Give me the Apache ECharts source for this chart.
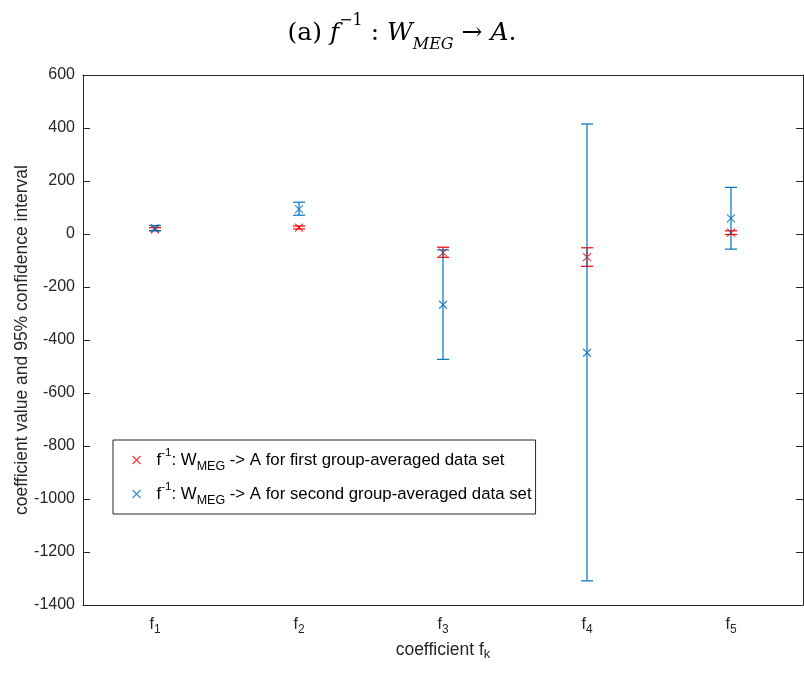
<!DOCTYPE html>
<html lang="en">

<head>
  <meta charset="UTF-8">
  <title>f^-1 : W_MEG -> A</title>
  <script src="https://cdn.jsdelivr.net/npm/echarts@6/dist/echarts.min.js"></script>
  <style>
    html, body { margin: 0; padding: 0; background: #fff; }
  </style>
</head>

<body>
  <div id="main" style="width: 804px;height:675px"></div>
  <script>
    // 系数名 (下标)
    var categories = ['1', '2', '3', '4', '5'];
    var yTicks = [600, 400, 200, 0, -200, -400, -600, -800, -1000, -1200, -1400];
    // 第一组平均数据
    var firstVal = [18, 24, -70, -87, 5];
    var firstLow = [13, 19, -88, -122, -2];
    var firstHigh = [24, 30, -50, -52, 12];
    // 第二组平均数据
    var secondVal = [22, 94, -267, -448, 59];
    var secondLow = [12, 71, -473, -1309, -57];
    var secondHigh = [32, 120, -60, 415, 176];

    var RED = '#FF0000';
    var BLUE = '#0072BD';
    var AX = '#262626';
    var FONT = '"Liberation Sans", Arial, Helvetica, sans-serif';
    var SERIF = '"DejaVu Serif", serif';
    var xMark = 'path://M0,0L10,10M0,10L10,0';

    var nameFirst = 'first';
    var nameSecond = 'second';

    function pts(vals) {
      return vals.map(function (v, i) { return [i, v]; });
    }
    function bars(lo, hi) {
      return lo.map(function (v, i) { return [i, v, hi[i]]; });
    }

    // 误差棒
    function errorBar(color) {
      return function (params, api) {
        var x = api.value(0);
        var lo = api.coord([x, api.value(1)]);
        var hi = api.coord([x, api.value(2)]);
        var hw = 6;
        var st = { stroke: color, lineWidth: 1.2 };
        return {
          type: 'group',
          children: [
            { type: 'line', shape: { x1: lo[0], y1: lo[1], x2: hi[0], y2: hi[1] }, style: st },
            { type: 'line', shape: { x1: lo[0] - hw, y1: lo[1], x2: lo[0] + hw, y2: lo[1] }, style: st },
            { type: 'line', shape: { x1: hi[0] - hw, y1: hi[1], x2: hi[0] + hw, y2: hi[1] }, style: st }
          ]
        };
      };
    }

    var legendRich = {
      t: { fontSize: 16.8, fontFamily: FONT, color: '#000', lineHeight: 26 },
      sup: { fontSize: 11.5, fontFamily: FONT, color: '#000', lineHeight: 10, verticalAlign: 'top' },
      sub: { fontSize: 12.5, fontFamily: FONT, color: '#000', lineHeight: 11, verticalAlign: 'bottom' }
    };
    var tickRich = {
      t: { fontSize: 16, fontFamily: FONT, color: AX, lineHeight: 22 },
      sub: { fontSize: 12, fontFamily: FONT, color: AX, lineHeight: 11, verticalAlign: 'bottom' }
    };
    var titleRich = {
      t: { fontSize: 17.5, fontFamily: FONT, color: AX, lineHeight: 22 },
      sub: { fontSize: 13, fontFamily: FONT, color: AX, lineHeight: 11, verticalAlign: 'bottom' }
    };

    var myChart = echarts.init(document.getElementById('main'));
    var option = {
      animation: false,
      backgroundColor: '#fff',
      title: {
        text: '{t|(a) }{i|f}{sup|−1}{t| : }{i|W}{sub|MEG}{t| → }{i|A}{t|.}',
        left: 'center',
        top: 8,
        textStyle: {
          rich: {
            t: { fontSize: 25, fontFamily: SERIF, fontWeight: 'normal', color: '#000', lineHeight: 40 },
            i: { fontSize: 25, fontFamily: SERIF, fontWeight: 'normal', fontStyle: 'italic', color: '#000', lineHeight: 40 },
            sup: { fontSize: 16, fontFamily: SERIF, fontWeight: 'normal', color: '#000', lineHeight: 16, verticalAlign: 'top' },
            sub: { fontSize: 16, fontFamily: SERIF, fontWeight: 'normal', fontStyle: 'italic', color: '#000', lineHeight: 16, verticalAlign: 'bottom' }
          }
        }
      },
      legend: {
        orient: 'vertical',
        left: 113,
        top: 440,
        padding: [7, 4, 7, 19],
        itemGap: 8,
        itemWidth: 30,
        itemHeight: 8,
        borderColor: AX,
        borderWidth: 1,
        backgroundColor: '#fff',
        itemStyle: { borderWidth: 1.2 },
        data: [
          { name: nameFirst, icon: xMark },
          { name: nameSecond, icon: xMark }
        ],
        formatter: function (name) {
          var rest = name === nameFirst ? ' -> A for first group-averaged data set'
                                         : ' -> A for second group-averaged data set';
          return '{t|f}{sup|-1}{t|: W}{sub|MEG}{t|' + rest + '}';
        },
        textStyle: { rich: legendRich }
      },
      grid: { left: 83, right: 1, top: 75, bottom: 70, containLabel: false, outerBoundsMode: 'none' },
      xAxis: [{
        type: 'category',
        data: categories,
        boundaryGap: true,
        name: '{t|coefficient f}{sub|k}',
        nameLocation: 'middle',
        nameGap: 34,
        nameMoveOverlap: false,
        nameTextStyle: { rich: titleRich },
        axisLine: { onZero: false, lineStyle: { color: AX, width: 1 } },
        axisTick: { inside: true, alignWithLabel: true, length: 7, lineStyle: { color: AX } },
        axisLabel: {
          margin: 9,
          formatter: function (v) { return '{t|f}{sub|' + v + '}'; },
          rich: tickRich
        },
        splitLine: { show: false }
      }, {
        type: 'category',
        data: categories,
        position: 'top',
        boundaryGap: true,
        axisLine: { onZero: false, lineStyle: { color: AX, width: 1 } },
        axisTick: { inside: true, alignWithLabel: true, length: 7, lineStyle: { color: AX } },
        axisLabel: { show: false }
      }],
      yAxis: [{
        type: 'value',
        min: yTicks[yTicks.length - 1],
        max: yTicks[0],
        interval: 200,
        name: 'coefficient value and 95% confidence interval',
        nameLocation: 'middle',
        nameGap: 52,
        nameMoveOverlap: false,
        nameTextStyle: { fontSize: 17.5, fontFamily: FONT, color: AX },
        axisLine: { show: true, onZero: false, lineStyle: { color: AX, width: 1 } },
        axisTick: { show: true, inside: true, length: 7, lineStyle: { color: AX } },
        axisLabel: {
          fontSize: 16, fontFamily: FONT, color: AX, margin: 8,
          formatter: function (v) { return String(v); }
        },
        splitLine: { show: false }
      }, {
        type: 'value',
        position: 'right',
        min: yTicks[yTicks.length - 1],
        max: yTicks[0],
        interval: 200,
        axisLine: { show: true, onZero: false, lineStyle: { color: AX, width: 1 } },
        axisTick: { show: true, inside: true, length: 7, lineStyle: { color: AX } },
        axisLabel: { show: false },
        splitLine: { show: false }
      }],
      series: [
        {
          name: 'first-ci',
          type: 'custom',
          renderItem: errorBar(RED),
          data: bars(firstLow, firstHigh),
          encode: { x: 0, y: [1, 2] },
          z: 2
        },
        {
          name: nameFirst,
          type: 'scatter',
          symbol: xMark,
          symbolSize: 8,
          itemStyle: { color: 'rgba(0,0,0,0)', borderColor: RED, borderWidth: 1.2 },
          data: pts(firstVal),
          z: 3
        },
        {
          name: 'second-ci',
          type: 'custom',
          renderItem: errorBar(BLUE),
          data: bars(secondLow, secondHigh),
          encode: { x: 0, y: [1, 2] },
          z: 4
        },
        {
          name: nameSecond,
          type: 'scatter',
          symbol: xMark,
          symbolSize: 8,
          itemStyle: { color: 'rgba(0,0,0,0)', borderColor: BLUE, borderWidth: 1.2 },
          data: pts(secondVal),
          z: 5
        }
      ]
    };
    myChart.setOption(option);
  </script>
</body>

</html>
